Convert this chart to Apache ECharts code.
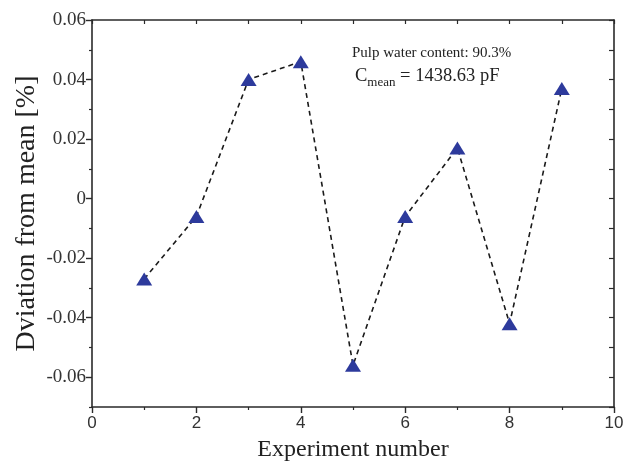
<!DOCTYPE html>
<html>
<head>
<meta charset="utf-8">
<script src="https://cdn.jsdelivr.net/npm/echarts@6/dist/echarts.min.js"></script>
<style>
  html, body { margin: 0; padding: 0; background: #fff; }
  #chart { width: 624px; height: 462px; }
</style>
</head>
<body>
<div id="chart"></div>
<script>
// Experiment numbers and the deviation of each capacitance reading from the mean
var experiments = [1, 2, 3, 4, 5, 6, 7, 8, 9];
var deviations = [-0.027, -0.006, 0.040, 0.046, -0.056, -0.006, 0.017, -0.042, 0.037];

// Tick positions
var yMajorTicks = [-0.06, -0.04, -0.02, 0, 0.02, 0.04, 0.06];
var yMinorTicks = [-0.07, -0.05, -0.03, -0.01, 0.01, 0.03, 0.05];

var axisColor = '#2a2a2a';
var serif = '"Liberation Serif", "Times New Roman", serif';
var sans = '"Liberation Sans", Arial, sans-serif';

var points = experiments.map(function (x, i) { return [x, deviations[i]]; });

var chart = echarts.init(document.getElementById('chart'), null, { renderer: 'canvas' });

chart.setOption({
  animation: false,
  backgroundColor: '#fff',
  grid: { left: 92, right: 10, top: 20, bottom: 55, containLabel: false, outerBoundsMode: 'none' },
  xAxis: [
    {
      type: 'value', min: 0, max: 10, interval: 2, position: 'bottom',
      name: 'Experiment number', nameLocation: 'middle', nameGap: 31, nameMoveOverlap: false,
      nameTextStyle: { fontFamily: serif, fontSize: 24, color: '#222' },
      axisLine: { show: true, onZero: false, lineStyle: { color: axisColor, width: 1.6 } },
      axisTick: { show: true, inside: false, length: 6, lineStyle: { color: axisColor, width: 1.4 } },
      minorTick: { show: true, splitNumber: 2, length: 3, lineStyle: { color: axisColor, width: 1.2 } },
      axisLabel: { fontFamily: sans, fontSize: 17, color: '#333', margin: 8 },
      splitLine: { show: false }
    },
    {
      type: 'value', min: 0, max: 10, interval: 1, position: 'top',
      axisLine: { show: true, onZero: false, lineStyle: { color: axisColor, width: 1.6 } },
      axisTick: { show: true, inside: true, length: 4, lineStyle: { color: axisColor, width: 1.2 } },
      axisLabel: { show: false },
      splitLine: { show: false }
    }
  ],
  yAxis: [
    {
      type: 'value', min: -0.07, max: 0.06, interval: 0.01, position: 'left',
      name: 'Dviation from mean [%]', nameLocation: 'middle', nameGap: 51, nameMoveOverlap: false,
      nameTextStyle: { fontFamily: serif, fontSize: 28, color: '#222' },
      axisLine: { show: true, onZero: false, lineStyle: { color: axisColor, width: 1.6 } },
      axisTick: { show: true, inside: false, length: 6, customValues: yMajorTicks,
                  lineStyle: { color: axisColor, width: 1.4 } },
      axisLabel: {
        customValues: yMajorTicks, fontFamily: serif, fontSize: 19, color: '#333', margin: 6,
        formatter: function (v) { return Math.abs(v) < 1e-9 ? '0' : v.toFixed(2); }
      },
      splitLine: { show: false }
    },
    {
      // short minor ticks at the odd hundredths on the left axis
      type: 'value', min: -0.07, max: 0.06, interval: 0.01, position: 'left',
      axisLine: { show: false },
      axisTick: { show: true, inside: false, length: 3, customValues: yMinorTicks,
                  lineStyle: { color: axisColor, width: 1.2 } },
      axisLabel: { show: false },
      splitLine: { show: false }
    },
    {
      type: 'value', min: -0.07, max: 0.06, interval: 0.01, position: 'right',
      axisLine: { show: true, onZero: false, lineStyle: { color: axisColor, width: 1.6 } },
      axisTick: { show: true, inside: true, length: 5, lineStyle: { color: axisColor, width: 1.2 } },
      axisLabel: { show: false },
      splitLine: { show: false }
    }
  ],
  series: [
    {
      type: 'line',
      xAxisIndex: 0, yAxisIndex: 0,
      data: points,
      symbol: 'triangle',
      symbolSize: [16, 13],
      itemStyle: { color: '#2d3a9c' },
      lineStyle: { color: '#1a1a1a', width: 1.6, type: [5, 4] },
      z: 3
    }
  ],
  graphic: [
    {
      type: 'text', left: 352, top: 46,
      style: { text: 'Pulp water content: 90.3%', fontFamily: serif, fontSize: 15, fill: '#222' }
    },
    {
      type: 'text', left: 355, top: 67,
      style: {
        text: '{c|C}{s|mean}{c| = 1438.63 pF}',
        rich: {
          c: { fontFamily: serif, fontSize: 18.5, fill: '#222', verticalAlign: 'bottom' },
          s: { fontFamily: serif, fontSize: 13, fill: '#222', verticalAlign: 'bottom', padding: [0, 0, -3, 0] }
        }
      }
    }
  ]
});
</script>
</body>
</html>
